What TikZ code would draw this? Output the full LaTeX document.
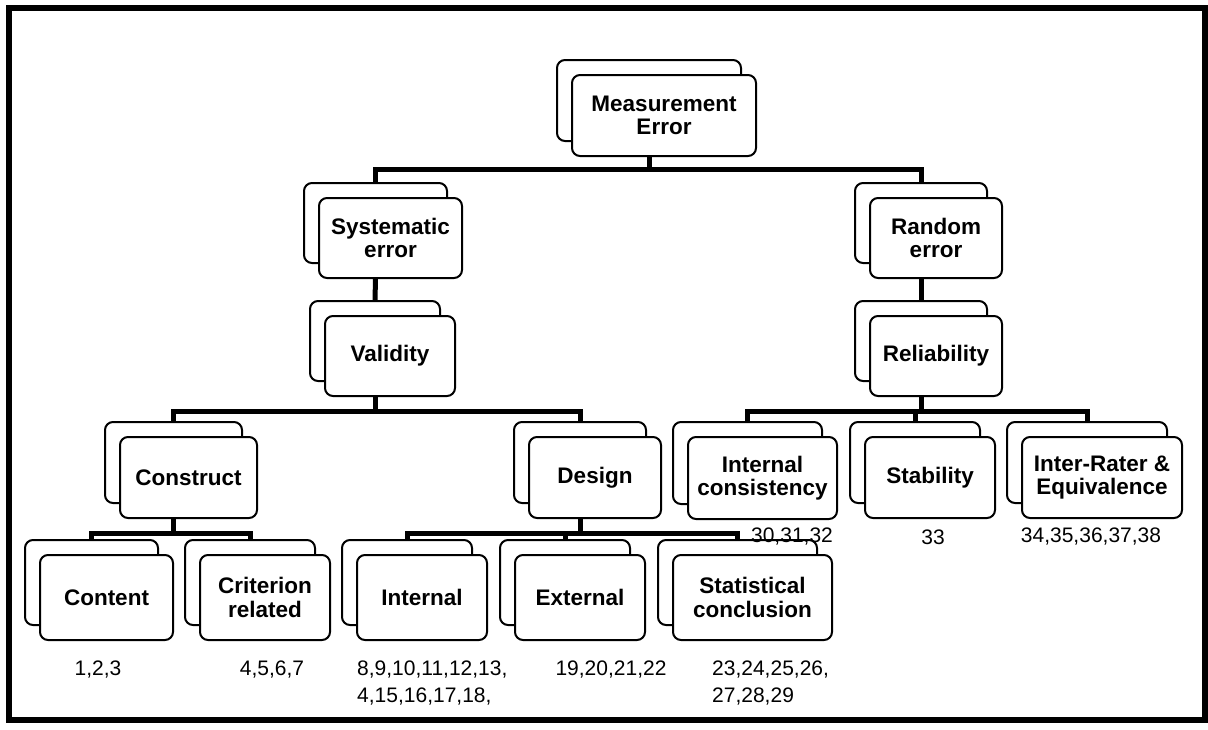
\documentclass[tikz,border=0pt]{standalone}
\usepackage{fontspec}
\setmainfont{Liberation Sans}
\newcommand\pairnode[6]{%
  \node[box,minimum width=#4pt,minimum height=#5pt] (#1b) at (#2-15,#3-15) {};
  \node[box,minimum width=#4pt,minimum height=#5pt] (#1) at (#2,#3) {#6};}
\begin{document}
\begin{tikzpicture}[x=1pt,y=-1pt,
  box/.style={draw,line width=2pt,rounded corners=8pt,fill=white,inner sep=0pt,align=center,
    font=\fontsize{22.5}{23.5}\selectfont\bfseries},
  conn/.style={line width=5pt},
  num/.style={font=\fontsize{21}{27}\selectfont,inner sep=0pt,align=left}]
\useasboundingbox (0,0) rectangle (1208,729);
\draw[line width=5.5pt] (9,8) rectangle (1205,720);
% nodes
\pairnode{me}{664}{115.5}{184}{81}{Measurement\\Error}
\pairnode{sys}{390.5}{238}{143}{80}{Systematic\\error}
\pairnode{val}{390}{356}{130}{80}{Validity}
\pairnode{rnd}{936}{238}{132}{80}{Random\\error}
\pairnode{rel}{936}{356}{132}{80}{Reliability}
\pairnode{con}{188.5}{477.5}{137}{81}{Construct}
\pairnode{des}{595}{477.5}{132}{81}{Design}
\pairnode{ic}{762.5}{478}{149}{82}{Internal\\consistency}
\pairnode{stab}{930}{477.5}{130}{81}{Stability}
\pairnode{ir}{1102}{477.5}{160}{81}{Inter-Rater \&\\Equivalence}
\pairnode{cont}{106.5}{597.5}{133}{85}{Content}
\pairnode{crit}{265}{597.5}{130}{85}{Criterion\\related}
\pairnode{intl}{422}{597.5}{130}{85}{Internal}
\pairnode{ext}{580}{597.5}{130}{85}{External}
\pairnode{stat}{752.5}{597.5}{159}{85}{Statistical\\conclusion}
% fork levels
\coordinate (f1) at (0,169);
\coordinate (f2) at (0,411);
\coordinate (f3) at (0,533);
% connectors
\draw[conn] (me.south -| meb.center) -- (meb.center |- f1);
\draw[conn] (sysb.north) -- (sysb.north |- f1) -- (rndb.north |- f1) -- (rndb.north);
\draw[conn] (sys.south -| sysb.center) -- (valb.north);
\draw[conn] (rnd.south -| rndb.center) -- (relb.north);
\draw[conn] (val.south -| valb.center) -- (valb.center |- f2);
\draw[conn] (conb.north) -- (conb.north |- f2) -- (desb.north |- f2) -- (desb.north);
\draw[conn] (rel.south -| relb.center) -- (relb.center |- f2);
\draw[conn] (icb.north) -- (icb.north |- f2) -- (irb.north |- f2) -- (irb.north);
\draw[conn] (stabb.north) -- (stabb.north |- f2);
\draw[conn] (con.south -| conb.center) -- (conb.center |- f3);
\draw[conn] (contb.north) -- (contb.north |- f3) -- (critb.north |- f3) -- (critb.north);
\draw[conn] (des.south -| desb.center) -- (desb.center |- f3);
\draw[conn] (intlb.north) -- (intlb.north |- f3) -- (statb.north |- f3) -- (statb.north);
\draw[conn] (extb.north) -- (extb.north |- f3);
% item numbers
\node[num] (n1) at (98,670) {1,2,3};
\node[num] (n2) at (272,670) {4,5,6,7};
\node[num,anchor=west] (n3) at (357,683.5) {8,9,10,11,12,13,\\4,15,16,17,18,};
\node[num] (n4) at (611,670) {19,20,21,22};
\node[num,anchor=west] (n5) at (712,683.5) {23,24,25,26,\\27,28,29};
\node[num] (n6) at (792,537) {30,31,32};
\node[num] (n7) at (933,537) {33};
\node[num] (n8) at (1091,537) {34,35,36,37,38};
\end{tikzpicture}
\end{document}
